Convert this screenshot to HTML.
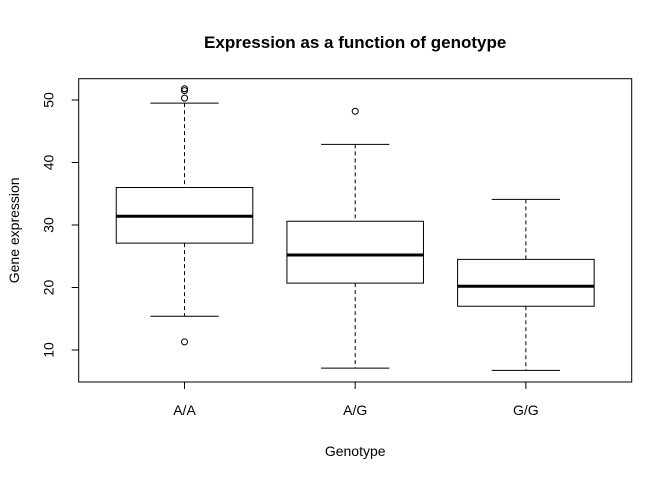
<!DOCTYPE html>
<html><head><meta charset="utf-8"><style>body{margin:0;background:#fff}svg{display:block;font-family:"Liberation Sans",Arial,sans-serif}</style></head>
<body>
<svg id="c" width="672" height="480"></svg>
<script>
const categories=["A/A","A/G","G/G"];
const lowerWhisker=[15.4,7.1,6.75];
const q1=[27.1,20.7,17.0];
const medians=[31.4,25.2,20.2];
const q3=[36.0,30.6,24.5];
const upperWhisker=[49.5,42.9,34.1];
const outliers=[[11.3,50.3,51.5,51.8],[48.2],[]];
const yTicks=[10,20,30,40,50];
const L=78.7,R=631.7,T=78.7,B=382;
const xs=i=>L+((i+1)-0.38)*(R-L)/3.24;
const ys=v=>412.5-6.25*v;
const svg=document.getElementById('c');const NS="http://www.w3.org/2000/svg";
function mk(t,a,p){const e=document.createElementNS(NS,t);for(const k in a)e.setAttribute(k,a[k]);(p||svg).appendChild(e);return e;}
const uw=(R-L)/3.24;
categories.forEach((c,i)=>{
 const g=mk('g',{});
 
 
 const x=xs(i),hw=0.4*uw,cw=0.2*uw;
 mk('line',{x1:x,x2:x,y1:ys(upperWhisker[i]),y2:ys(q3[i]),stroke:'#000','stroke-dasharray':'4,3'},g);
 mk('line',{x1:x,x2:x,y1:ys(q1[i]),y2:ys(lowerWhisker[i]),stroke:'#000','stroke-dasharray':'4,3'},g);
 mk('line',{x1:x-cw,x2:x+cw,y1:ys(upperWhisker[i]),y2:ys(upperWhisker[i]),stroke:'#000'},g);
 mk('line',{x1:x-cw,x2:x+cw,y1:ys(lowerWhisker[i]),y2:ys(lowerWhisker[i]),stroke:'#000'},g);
 mk('rect',{x:x-hw,y:ys(q3[i]),width:2*hw,height:ys(q1[i])-ys(q3[i]),fill:'none',stroke:'#000'},g);
 mk('line',{x1:x-hw,x2:x+hw,y1:ys(medians[i]),y2:ys(medians[i]),stroke:'#000','stroke-width':3},g);
 outliers[i].forEach(v=>{const o=mk('circle',{cx:x,cy:ys(v),r:3,fill:'none',stroke:'#000'},g);
  
  });
 const t=mk('line',{x1:x,x2:x,y1:B,y2:B+7,stroke:'#000'});
 const lb=mk('text',{x:x,y:B+33,'font-size':14,'text-anchor':'middle'});lb.textContent=c;
 
 
});
yTicks.forEach(v=>{mk('line',{x1:L-7,x2:L,y1:ys(v),y2:ys(v),stroke:'#000'});
 const t=mk('text',{x:0,y:0,'font-size':14,'text-anchor':'middle',transform:`translate(${L-25},${ys(v)}) rotate(-90)`});t.textContent=v;
 
 });
const fr=mk('rect',{x:L,y:T,width:R-L,height:B-T,fill:'none',stroke:'#000'});


const ti=mk('text',{x:(L+R)/2,y:48,'font-size':17,'font-weight':'bold','text-anchor':'middle'});ti.textContent='Expression as a function of genotype';


const xl=mk('text',{x:(L+R)/2,y:456,'font-size':14,'text-anchor':'middle'});xl.textContent='Genotype';


const yl=mk('text',{x:0,y:0,'font-size':14,'text-anchor':'middle',transform:`translate(19,${(T+B)/2}) rotate(-90)`});yl.textContent='Gene expression';


</script>
</body></html>
